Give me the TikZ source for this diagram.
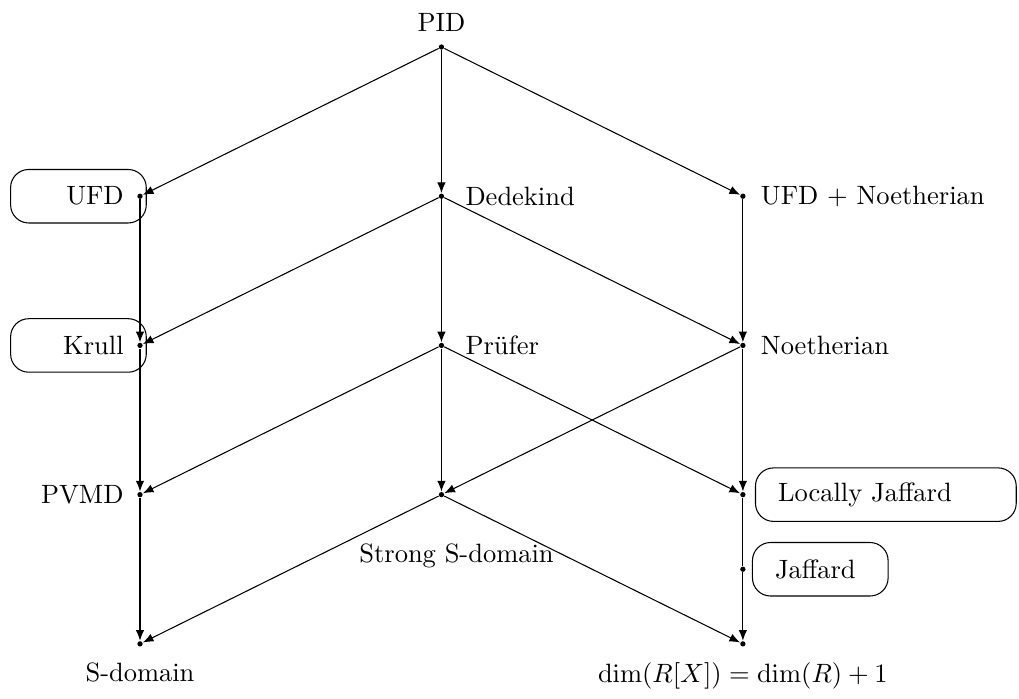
\documentclass[tikz,border=0pt]{standalone}
\usetikzlibrary{positioning,arrows.meta}

\begin{document}
\begin{tikzpicture}[y=0.99cm,
    dot/.style={circle,fill,inner sep=0pt,minimum size=2pt},
    lab/.style={inner sep=0pt},
    lbox/.style={draw,rounded corners=0.24cm,minimum height=0.71cm,inner xsep=0.3cm,inner ysep=0pt},
    imp/.style={-{Latex[length=4pt,width=3.2pt]}}]
  \useasboundingbox (-1.858cm,0.624cm) rectangle (11.664cm,-8.639cm);

  % the points
  \node[dot] (pid)   at (4,0)  {};
  \node[dot] (ufd)   at (0,-2) {};
  \node[dot] (ded)   at (4,-2) {};
  \node[dot] (ufdn)  at (8,-2) {};
  \node[dot] (krull) at (0,-4) {};
  \node[dot] (pru)   at (4,-4) {};
  \node[dot] (noe)   at (8,-4) {};
  \node[dot] (pvmd)  at (0,-6) {};
  \node[dot] (ssd)   at (4,-6) {};
  \node[dot] (lj)    at (8,-6) {};
  \node[dot] (jaf)   at (8,-7) {};
  \node[dot] (sdom)  at (0,-8) {};
  \node[dot] (dim)   at (8,-8) {};

  % the labels
  \node[lab,above=0.16cm of pid] (pidl) {PID};
  \node[lbox,text width=1.2cm,align=right,left=-0.09cm of ufd.center] (ufdl) {UFD};
  \node[lab,right=0.27cm of ded] (dedl) {Dedekind};
  \node[lab,right=0.19cm of ufdn] (ufdnl) {UFD + Noetherian};
  \node[lbox,text width=1.2cm,align=right,left=-0.09cm of krull.center] (krulll) {Krull};
  \node[lab,right=0.27cm of pru] (prul) {Prüfer};
  \node[lab,right=0.19cm of noe] (noel) {Noetherian};
  \node[lab,left=0.17cm of pvmd] (pvmdl) {PVMD};
  \node[lab,below=0.6cm of ssd,xshift=0.2cm] (ssdl) {Strong S-domain};
  \node[lbox,text width=2.86cm,align=left,right=0.16cm of lj.center] (ljl) {Locally Jaffard};
  \node[lbox,text width=1.2cm,align=left,right=0.12cm of jaf.center] (jafl) {Jaffard};
  \node[lab,below=0.2cm of sdom] (sdoml) {S-domain};
  \node[lab,below=0.2cm of dim] (diml) {$\dim(R[X]) = \dim(R) + 1$};

  % the implications
  \draw[imp] (pid) -- (ufd);
  \draw[imp] (pid) -- (ded);
  \draw[imp] (pid) -- (ufdn);
  \draw[imp] (ufd) -- (krull);
  \draw[imp] (ded) -- (krull);
  \draw[imp] (ded) -- (pru);
  \draw[imp] (ded) -- (noe);
  \draw[imp] (ufdn) -- (noe);
  \draw[imp] (krull) -- (pvmd);
  \draw[imp] (pru) -- (pvmd);
  \draw[imp] (pru) -- (ssd);
  \draw[imp] (pru) -- (lj);
  \draw[imp] (noe) -- (ssd);
  \draw[imp] (noe) -- (lj);
  \draw[imp] (pvmd) -- (sdom);
  \draw[imp] (ssd) -- (sdom);
  \draw[imp] (ssd) -- (dim);
  \draw (lj) -- (jaf);
  \draw[imp] (jaf) -- (dim);
\end{tikzpicture}
\end{document}
